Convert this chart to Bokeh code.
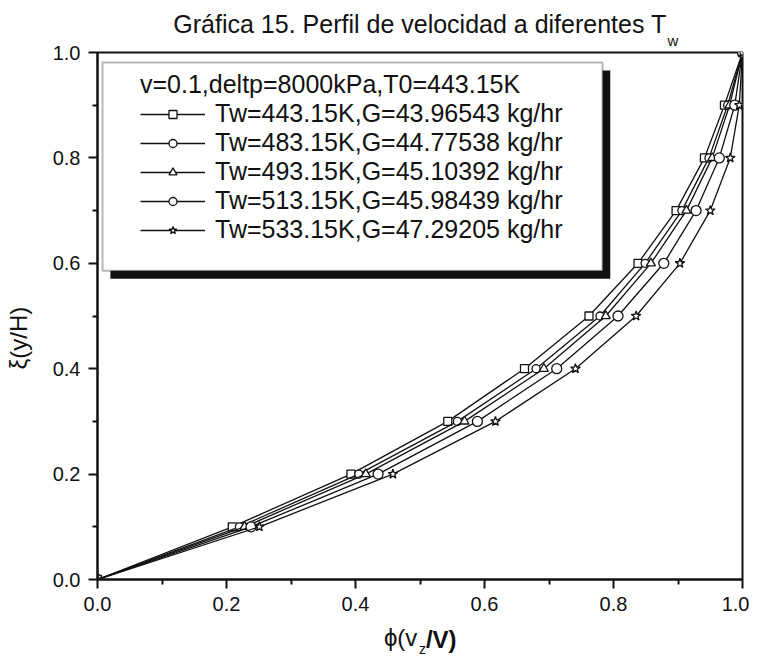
from bokeh.plotting import figure
from bokeh.models import (Range1d, FixedTicker, BoxAnnotation, Legend, LegendItem,
                          LinearAxis, PrintfTickFormatter)
from bokeh.embed import file_html
from bokeh.resources import INLINE

# ---------------- data ----------------
xi = [0.0, 0.1, 0.2, 0.3, 0.4, 0.5, 0.6, 0.7, 0.8, 0.9, 1.0]
phi_443 = [0.0, 0.209, 0.393, 0.543, 0.662, 0.762, 0.838, 0.897, 0.941, 0.972, 1.0]
phi_483 = [0.0, 0.220, 0.405, 0.558, 0.680, 0.779, 0.849, 0.906, 0.948, 0.977, 1.0]
phi_493 = [0.0, 0.228, 0.416, 0.569, 0.692, 0.788, 0.858, 0.913, 0.953, 0.980, 1.0]
phi_513 = [0.0, 0.238, 0.435, 0.589, 0.712, 0.807, 0.878, 0.928, 0.964, 0.988, 1.0]
phi_533 = [0.0, 0.251, 0.458, 0.617, 0.741, 0.835, 0.903, 0.950, 0.981, 0.995, 1.0]

series_values = [phi_443, phi_483, phi_493, phi_513, phi_533]
series_labels = [
    "Tw=443.15K,G=43.96543 kg/hr",
    "Tw=483.15K,G=44.77538 kg/hr",
    "Tw=493.15K,G=45.10392 kg/hr",
    "Tw=513.15K,G=45.98439 kg/hr",
    "Tw=533.15K,G=47.29205 kg/hr",
]
series_markers = ["square", "circle", "triangle", "circle", "star"]
series_sizes = [8, 8, 9, 10, 10]
legend_header = "v=0.1,deltp=8000kPa,T0=443.15K"
title_main = "Gráfica 15. Perfil de velocidad a diferentes T"
title_sub = "w"
xlabel_parts = ["ϕ(v", "z", "/V)"]
ylabel_text = "ξ(y/H)"
major_ticks = [0.0, 0.2, 0.4, 0.6, 0.8, 1.0]
minor_ticks = [0.1, 0.3, 0.5, 0.7, 0.9]

FONT = "Liberation Sans"
INK = "#111111"

p = figure(width=749, height=659, output_backend="svg", toolbar_location=None,
           x_range=Range1d(0, 1), y_range=Range1d(0, 1),
           min_border_left=97, min_border_right=7, min_border_top=52, min_border_bottom=76)
p.background_fill_color = "white"
p.border_fill_color = "white"
p.outline_line_color = INK
p.outline_line_width = 2
p.grid.visible = False

xa = p.xaxis[0]
ya = p.yaxis[0]
for ax in (xa, ya):
    ax.ticker = FixedTicker(ticks=major_ticks, minor_ticks=minor_ticks)
    ax.formatter = PrintfTickFormatter(format="%.1f")
    ax.axis_line_color = INK
    ax.axis_line_width = 2
    ax.major_tick_line_color = INK
    ax.major_tick_line_width = 2
    ax.minor_tick_line_color = INK
    ax.minor_tick_line_width = 2
    ax.major_tick_in = 0
    ax.major_tick_out = 9
    ax.minor_tick_in = 0
    ax.minor_tick_out = 5
    ax.major_label_text_font = FONT
    ax.major_label_text_font_size = "20px"
    ax.major_label_text_color = INK
    ax.major_label_standoff = 8


def text_axis(side, pos, text, size, standoff, style="normal", orientation="horizontal"):
    ax = LinearAxis(ticker=FixedTicker(ticks=[pos], minor_ticks=[]),
                    major_label_overrides={pos: text},
                    axis_line_color=None, major_tick_line_color=None,
                    minor_tick_line_color=None,
                    major_tick_in=0, major_tick_out=0, minor_tick_in=0, minor_tick_out=0,
                    major_label_standoff=standoff, major_label_text_font=FONT,
                    major_label_text_font_size=size, major_label_text_font_style=style,
                    major_label_text_color=INK, major_label_orientation=orientation)
    p.add_layout(ax, side)
    return ax


# title (subscript row nearest the frame, main row above it)
text_axis("above", 0.892, title_sub, "15px", 4)
text_axis("above", 0.5, title_main, "25px", -9)

# x-axis label pieces
text_axis("below", 0.47, xlabel_parts[0], "24px", 10)
text_axis("below", 0.533, xlabel_parts[2], "24px", -28, style="bold")
text_axis("below", 0.504, xlabel_parts[1], "14px", -15)

# y-axis label
text_axis("left", 0.458, ylabel_text, "24px", 17, orientation="vertical")

items = []
for vals, lab, mk, sz in zip(series_values, series_labels, series_markers, series_sizes):
    r_line = p.line(vals, xi, line_color=INK, line_width=1.3)
    r_mk = p.scatter(vals, xi, marker=mk, size=sz, fill_color="white",
                     line_color=INK, line_width=1.3)
    items.append(LegendItem(label=lab, renderers=[r_line, r_mk]))

# legend frame with drop shadow
shadow = BoxAnnotation(left=0.020, right=0.795, top=0.966, bottom=0.5706,
                       fill_color=INK, fill_alpha=1.0, line_alpha=0)
box = BoxAnnotation(left=0.00775, right=0.783, top=0.981, bottom=0.5857,
                    fill_color="white", fill_alpha=1.0, line_color=INK, line_width=2)
p.add_layout(shadow)
p.add_layout(box)

legend = Legend(items=items, location=(43, 335), title=legend_header,
                title_text_font=FONT, title_text_font_size="25px",
                title_text_font_style="normal", title_text_color=INK, title_standoff=0,
                label_text_font=FONT, label_text_font_size="25px", label_text_color=INK,
                glyph_width=65, glyph_height=20, label_height=20, label_standoff=10,
                spacing=0, padding=0, margin=0,
                background_fill_alpha=0, border_line_alpha=0)
p.add_layout(legend)

open("out.html", "w").write(file_html(p, INLINE))
